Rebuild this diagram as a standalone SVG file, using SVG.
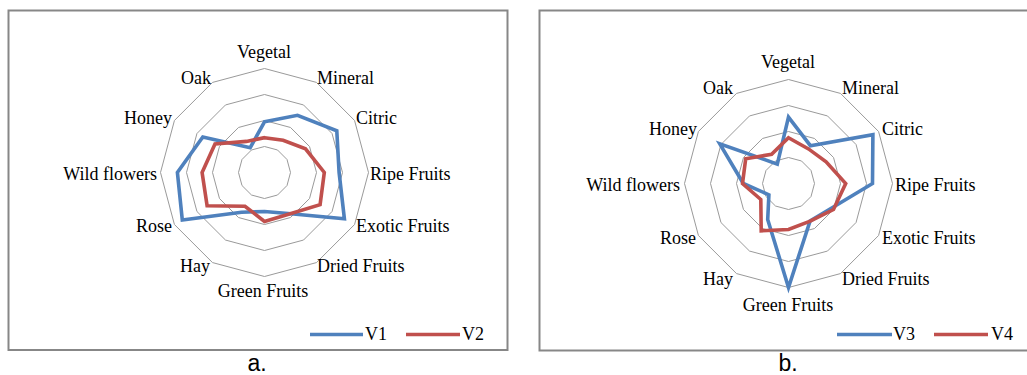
<svg xmlns="http://www.w3.org/2000/svg" width="1027" height="375" viewBox="0 0 1027 375">
<style>
.frame{fill:#fff;stroke:#878787;stroke-width:2}
.ring{fill:none;stroke:#9a9a9a;stroke-width:1}
.v-blue{fill:none;stroke:#4f81bd;stroke-width:3.6;stroke-linejoin:miter}
.v-red{fill:none;stroke:#c0504d;stroke-width:3.6;stroke-linejoin:miter}
.lbl{font-family:"Liberation Serif","Times New Roman",serif;font-size:18px;fill:#000}
.cap{font-family:"Liberation Sans",Arial,sans-serif;font-size:23px;fill:#000}
.s{text-anchor:start}.e{text-anchor:end}.m{text-anchor:middle}
</style>
<defs>
<g id="grid">
<polygon class="ring" points="0,-26 13,-22.52 22.52,-13 26,0 22.52,13 13,22.52 0,26 -13,22.52 -22.52,13 -26,0 -22.52,-13 -13,-22.52"/>
<polygon class="ring" points="0,-52 26,-45.03 45.03,-26 52,0 45.03,26 26,45.03 0,52 -26,45.03 -45.03,26 -52,0 -45.03,-26 -26,-45.03"/>
<polygon class="ring" points="0,-78 39,-67.55 67.55,-39 78,0 67.55,39 39,67.55 0,78 -39,67.55 -67.55,39 -78,0 -67.55,-39 -39,-67.55"/>
<polygon class="ring" points="0,-104 52,-90.07 90.07,-52 104,0 90.07,52 52,90.07 0,104 -52,90.07 -90.07,52 -104,0 -90.07,-52 -52,-90.07"/>
</g>
</defs>

<g id="panel-a">
<rect class="frame" x="8.5" y="10.5" width="499" height="339.5"/>
<g id="chart-a" transform="translate(264.5,172.5)">
<use href="#grid"/>
<polygon id="series-v1" class="v-blue" points="0,-50.7 33,-57.2 72.3,-41.7 74.6,0 79.9,46.2 23.7,41 0,39 -23,39.8 -82.2,47.5 -87.1,0 -61.7,-35.6 -14.3,-24.8"/>
<polygon id="series-v2" class="v-red" points="0,-34.8 18.6,-32.2 41,-23.7 59.8,0 55.6,32.1 24.1,41.7 0,48.9 -19.5,33.8 -57.4,33.2 -62.4,0 -49.5,-28.6 -18,-31.1"/>
</g>
<g id="labels-a" class="lbl">
<text class="m" x="264" y="58">Vegetal</text>
<text class="s" x="317" y="84">Mineral</text>
<text class="s" x="356" y="124">Citric</text>
<text class="s" x="370" y="180">Ripe Fruits</text>
<text class="s" x="356" y="232">Exotic Fruits</text>
<text class="s" x="317" y="272">Dried Fruits</text>
<text class="m" x="263" y="297">Green Fruits</text>
<text class="e" x="210" y="272">Hay</text>
<text class="e" x="172" y="232">Rose</text>
<text class="e" x="157" y="180">Wild flowers</text>
<text class="e" x="172" y="124">Honey</text>
<text class="e" x="211" y="84">Oak</text>
</g>
<g id="legend-a">
<line class="v-blue" x1="310" y1="334.5" x2="363" y2="334.5"/>
<text class="lbl" x="365" y="340">V1</text>
<line class="v-red" x1="406" y1="334.5" x2="460" y2="334.5"/>
<text class="lbl" x="462" y="340">V2</text>
</g>
<text class="cap m" x="257" y="371">a.</text>
</g>

<g id="panel-b">
<rect class="frame" x="539.5" y="10.5" width="500" height="340"/>
<g id="chart-b" transform="translate(788.5,183.5)">
<use href="#grid"/>
<polygon id="series-v3" class="v-blue" points="0,-66.3 21.9,-37.8 84.4,-48.8 84,0 42.8,24.7 21.6,37.4 0,104 -20.8,36 -19.6,11.3 -45.2,0 -68.7,-39.7 -11.2,-19.4"/>
<polygon id="series-v4" class="v-red" points="0,-45.8 20,-34.6 37.6,-21.7 57.2,0 45,26 21.7,37.6 0,46 -27.3,47.3 -27.7,16 -46,0 -42.8,-24.7 -16.9,-29.3"/>
</g>
<g id="labels-b" class="lbl">
<text class="m" x="788" y="68">Vegetal</text>
<text class="s" x="842" y="94">Mineral</text>
<text class="s" x="882" y="135">Citric</text>
<text class="s" x="895" y="191">Ripe Fruits</text>
<text class="s" x="882" y="244">Exotic Fruits</text>
<text class="s" x="842" y="285">Dried Fruits</text>
<text class="m" x="788" y="311">Green Fruits</text>
<text class="e" x="733" y="285">Hay</text>
<text class="e" x="696" y="244">Rose</text>
<text class="e" x="680" y="191">Wild flowers</text>
<text class="e" x="697" y="135">Honey</text>
<text class="e" x="733" y="94">Oak</text>
</g>
<g id="legend-b">
<line class="v-blue" x1="837" y1="334.5" x2="892" y2="334.5"/>
<text class="lbl" x="893" y="340">V3</text>
<line class="v-red" x1="934" y1="334.5" x2="988" y2="334.5"/>
<text class="lbl" x="991" y="340">V4</text>
</g>
<text class="cap m" x="788" y="371">b.</text>
</g>
</svg>
